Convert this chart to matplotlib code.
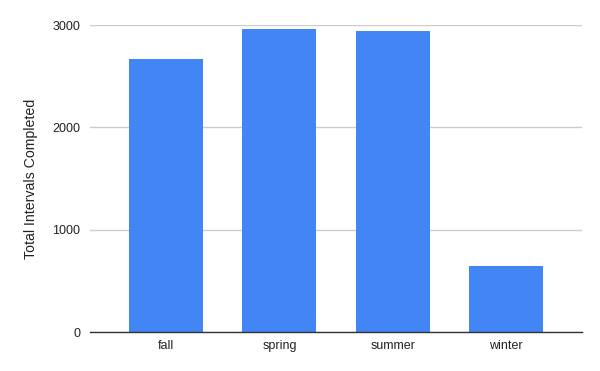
import matplotlib
matplotlib.use("Agg")
import matplotlib.pyplot as plt

categories = ["fall", "spring", "summer", "winter"]
values = [2670, 2962, 2942, 645]
yticks = [0, 1000, 2000, 3000]

plt.rcParams['font.family'] = ['Liberation Sans', 'DejaVu Sans']

fig = plt.figure(figsize=(6, 3.71), dpi=100)
ax = fig.add_axes([0.15, 0.105, 0.82, 1 - 25/371 - 0.105])
x = list(range(len(categories)))
ax.bar(x, values, width=0.655, color="#4285F4", zorder=3)
ax.set_xlim(-0.673, len(categories) - 1 + 0.673)
ax.set_ylim(0, 3000)
ax.set_yticks(yticks)
ax.set_yticklabels([str(v) for v in yticks])
ax.set_xticks(x)
ax.set_xticklabels(categories)
ax.grid(axis="y", color="#cccccc", linewidth=1, zorder=0)
for s in ["top", "right", "left"]:
    ax.spines[s].set_visible(False)
ax.spines["bottom"].set_color("#333333")
ax.spines["bottom"].set_linewidth(1)
ax.spines["bottom"].set_zorder(4)
ax.tick_params(axis="both", length=0, labelsize=9, colors="#222222", pad=7)
ax.tick_params(axis="x", pad=6)
ax.set_ylabel("Total Intervals Completed", fontsize=10.2, color="#222222", labelpad=10)
fig.savefig("out.png", dpi=100)
